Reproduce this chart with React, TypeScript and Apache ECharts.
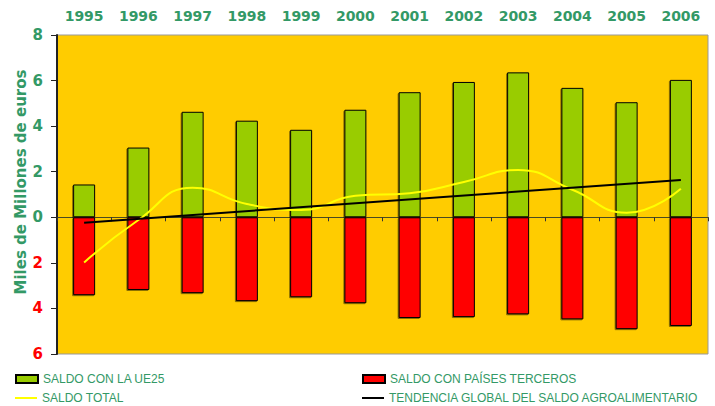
import React, { useEffect, useRef } from "react";
import * as echarts from "echarts";

const years = ["1995", "1996", "1997", "1998", "1999", "2000", "2001", "2002", "2003", "2004", "2005", "2006"];
const saldoUE25 = [1.44, 3.06, 4.63, 4.24, 3.84, 4.72, 5.49, 5.94, 6.36, 5.68, 5.05, 6.03];
const saldoTerceros = [-3.42, -3.19, -3.33, -3.68, -3.51, -3.77, -4.42, -4.38, -4.26, -4.48, -4.91, -4.77];
const saldoTotal = [-1.98, -0.12, 1.3, 0.58, 0.32, 0.95, 1.06, 1.55, 2.08, 1.21, 0.2, 1.25];
const tendencia = [-0.24, null, null, null, null, null, null, null, null, null, null, 1.64];

const GREEN = "#339966";
const FONT = "DejaVu Sans";
const LEGEND_FONT = "'Liberation Sans', Arial, sans-serif";

const legendBase = {
  orient: "horizontal",
  padding: 0,
  itemWidth: 22,
  itemHeight: 8,
  textStyle: { color: GREEN, fontSize: 12, lineHeight: 14, fontFamily: LEGEND_FONT },
};

export default function App() {
  const ref = useRef<HTMLDivElement>(null);
  useEffect(() => {
    if (!ref.current) return;
    const chart = echarts.init(ref.current, null, { renderer: "svg" });
    chart.setOption({
      animation: false,
      backgroundColor: "#ffffff",
      grid: {
        left: 57,
        right: 7,
        top: 35,
        bottom: 52,
        show: true,
        backgroundColor: "#FFCC00",
        borderColor: "#999999",
        borderWidth: 1,
      },
      graphic: [
        {
          type: "text",
          x: 21,
          y: 182,
          rotation: Math.PI / 2,
          style: {
            text: "Miles de Millones de euros",
            fill: GREEN,
            font: `bold 15px '${FONT}'`,
            align: "center",
            verticalAlign: "middle",
          },
        },
      ],
      legend: [
        { ...legendBase, left: 15, top: 372, data: [{ name: "SALDO CON LA UE25", icon: "rect" }] },
        { ...legendBase, left: 15, top: 391, itemHeight: 2, data: [{ name: "SALDO TOTAL", icon: "rect" }] },
        { ...legendBase, left: 362, top: 372, data: [{ name: "SALDO CON PAÍSES TERCEROS", icon: "rect" }] },
        { ...legendBase, left: 362, top: 391, itemHeight: 2, data: [{ name: "TENDENCIA GLOBAL DEL SALDO AGROALIMENTARIO", icon: "rect" }] },
      ],
      xAxis: [
        {
          type: "category",
          data: years,
          position: "top",
          axisLine: { show: false, onZero: false },
          axisTick: { show: false },
          axisLabel: { color: GREEN, fontWeight: "bold", fontSize: 14, fontFamily: FONT, margin: 12 },
        },
        {
          type: "category",
          data: years,
          position: "bottom",
          axisLine: { show: true, onZero: true, onZeroAxisIndex: 0, lineStyle: { color: "#4a4a20", width: 1 } },
          axisTick: { show: true, length: 4, lineStyle: { color: "#333" } },
          axisLabel: { show: false },
        },
      ],
      yAxis: {
        type: "value",
        min: -6,
        max: 8,
        interval: 2,
        axisLine: { show: true, onZero: false, lineStyle: { color: "#222", width: 2 } },
        axisTick: { show: true, length: 6, lineStyle: { color: "#222" } },
        splitLine: { show: false },
        axisLabel: {
          margin: 14,
          formatter: (v: number) => (v < 0 ? `{r|${-v}}` : `{g|${v}}`),
          rich: {
            g: { color: GREEN, fontWeight: "bold", fontSize: 15, fontFamily: FONT },
            r: { color: "#FF0000", fontWeight: "bold", fontSize: 15, fontFamily: FONT },
          },
        },
      },
      series: [
        {
          name: "SALDO CON LA UE25",
          type: "bar",
          xAxisIndex: 0,
          data: saldoUE25,
          barWidth: 22,
          barGap: "-100%",
          itemStyle: { color: "#99CC00", borderColor: "#000", borderWidth: 1, shadowColor: "rgba(0,0,0,0.45)", shadowOffsetX: -1, shadowOffsetY: 1, shadowBlur: 0 },
        },
        {
          name: "SALDO CON PAÍSES TERCEROS",
          type: "bar",
          xAxisIndex: 0,
          data: saldoTerceros,
          barWidth: 22,
          barGap: "-100%",
          itemStyle: { color: "#FF0000", borderColor: "#000", borderWidth: 1, shadowColor: "rgba(0,0,0,0.45)", shadowOffsetX: -1, shadowOffsetY: 1, shadowBlur: 0 },
        },
        {
          name: "SALDO TOTAL",
          type: "line",
          xAxisIndex: 0,
          data: saldoTotal,
          smooth: 0.5,
          symbol: "none",
          lineStyle: { color: "#FFFF00", width: 2 },
          itemStyle: { color: "#FFFF00" },
          z: 3,
        },
        {
          name: "TENDENCIA GLOBAL DEL SALDO AGROALIMENTARIO",
          type: "line",
          xAxisIndex: 0,
          data: tendencia,
          connectNulls: true,
          symbol: "none",
          lineStyle: { color: "#000000", width: 2 },
          itemStyle: { color: "#000000" },
          z: 4,
        },
      ],
    });
    return () => chart.dispose();
  }, []);
  return <div ref={ref} style={{ width: 715, height: 406, position: "absolute", left: 0, top: 0 }} />;
}
